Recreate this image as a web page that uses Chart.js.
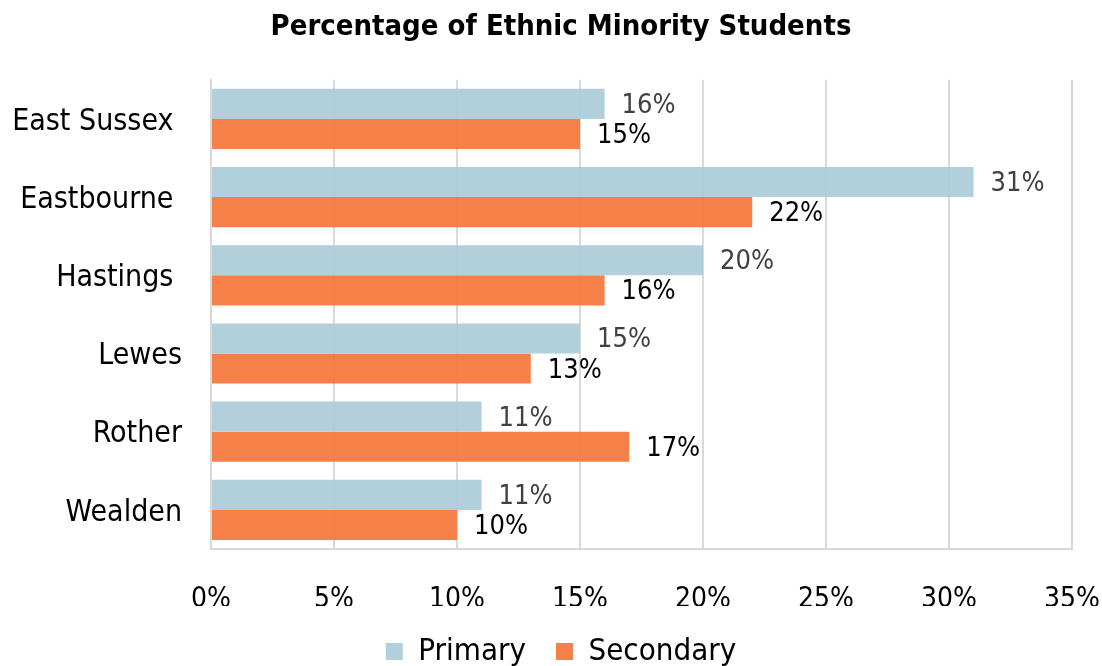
<!DOCTYPE html>
<html>
<head>
<meta charset="utf-8">
<script src="https://cdn.jsdelivr.net/npm/chart.js@4.4.1/dist/chart.umd.min.js"></script>
<style>
  html, body { margin: 0; padding: 0; background: #ffffff; }
  #wrap { width: 1102px; height: 666px; }
</style>
</head>
<body>
<div id="wrap"><canvas id="c" width="1102" height="666"></canvas></div>
<script>
const categories = ["East Sussex ", "Eastbourne ", "Hastings ", "Lewes", "Rother", "Wealden"];
const primaryValues = [16, 31, 20, 15, 11, 11];
const secondaryValues = [15, 22, 16, 13, 17, 10];
const xTicks = [0, 5, 10, 15, 20, 25, 30, 35];
const seriesNames = ["Primary", "Secondary"];

const FONT = "'DejaVu Sans Condensed', 'DejaVu Sans', sans-serif";

const barLabels = {
  id: 'barLabels',
  afterDatasetsDraw(chart) {
    const ctx = chart.ctx;
    const colors = ['#404040', '#000000'];
    chart.data.datasets.forEach((ds, i) => {
      const meta = chart.getDatasetMeta(i);
      meta.data.forEach((bar, j) => {
        ctx.save();
        ctx.font = "27px " + FONT;
        ctx.fillStyle = colors[i];
        ctx.textAlign = 'left';
        ctx.textBaseline = 'middle';
        ctx.fillText(ds.data[j] + '%', bar.x + 17, bar.y + 2);
        ctx.restore();
      });
    });
  }
};

new Chart(document.getElementById('c'), {
  type: 'bar',
  data: {
    labels: categories,
    datasets: [
      { label: seriesNames[0], data: primaryValues, backgroundColor: 'rgba(174,205,218,0.95)', categoryPercentage: 0.77, barPercentage: 1.0 },
      { label: seriesNames[1], data: secondaryValues, backgroundColor: 'rgba(244,122,62,0.95)', categoryPercentage: 0.77, barPercentage: 1.0 }
    ]
  },
  options: {
    indexAxis: 'y',
    responsive: false,
    animation: false,
    devicePixelRatio: 1,
    layout: { padding: { left: 0, right: -20, top: 0, bottom: -11 } },
    scales: {
      x: {
        min: 0, max: 35,
        afterBuildTicks(scale) { scale.ticks = xTicks.map(v => ({ value: v })); },
        afterFit(scale) { scale.height = 57; scale.paddingRight = 30; scale.paddingLeft = 0; },
        ticks: { color: '#000000', font: { family: FONT, size: 28 }, padding: 34, callback: v => v + '%' },
        grid: { color: '#d9d9d9', lineWidth: 2, drawTicks: false },
        border: { color: '#d9d9d9', width: 2 }
      },
      y: {
        afterFit(scale) { scale.width = 211; },
        ticks: { color: '#000000', font: { family: FONT, size: 30 }, padding: 29, labelOffset: 3 },
        grid: { display: false, drawTicks: false },
        border: { color: '#d9d9d9', width: 2 }
      }
    },
    plugins: {
      title: {
        display: true,
        text: 'Percentage of Ethnic Minority Students',
        color: '#000000',
        font: { family: FONT, size: 29, weight: 'bold' },
        padding: { top: 10, bottom: 35 }
      },
      legend: {
        display: true,
        position: 'bottom',
        labels: { color: '#000000', font: { family: FONT, size: 31 }, boxWidth: 17, boxHeight: 17, padding: 30 }
      },
      tooltip: { enabled: false }
    }
  },
  plugins: [barLabels]
});
</script>
</body>
</html>
